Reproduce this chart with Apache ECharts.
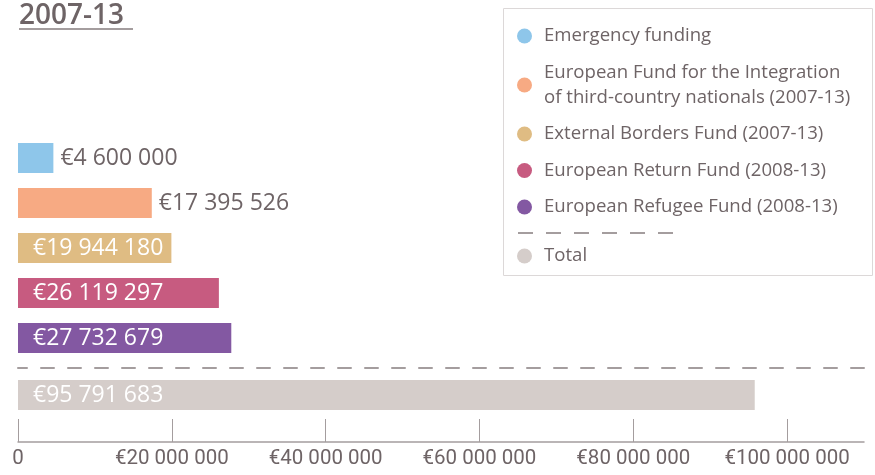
<!DOCTYPE html>
<html>
<head>
<meta charset="utf-8">
<script src="https://cdn.jsdelivr.net/npm/echarts@6/dist/echarts.min.js"></script>
<style>
  html, body { margin: 0; padding: 0; background: #fff; }
  #chart { width: 875px; height: 475px; }
</style>
</head>
<body>
<div id="chart"></div>
<script>
  // data
  const funds = [
    'Emergency funding',
    'European Fund for the Integration\nof third-country nationals (2007-13)',
    'External Borders Fund (2007-13)',
    'European Return Fund (2008-13)',
    'European Refugee Fund (2008-13)'
  ];
  const amounts = [4600000, 17395526, 19944180, 26119297, 27732679];
  const totalName = 'Total';
  const totalAmount = 95791683;
  const axisMax = 110000000;
  const axisStep = 20000000;

  const colors = ['#8ec6ea', '#f7aa83', '#dfbc83', '#c75b80', '#8358a2'];
  const totalColor = '#d5cdca';
  const textColor = '#6e6466';
  const lineColor = '#a49d9e';

  function euro(v) {
    return '€' + String(v).replace(/\B(?=(\d{3})+(?!\d))/g, ' ');
  }

  function barLabel(v) {
    let outside = v < 18000000;
    return {
      show: true,
      position: outside ? 'right' : 'insideLeft',
      distance: outside ? 7 : 15,
      color: outside ? textColor : '#fff',
      fontFamily: 'Open Sans',
      fontSize: 23,
      formatter: p => euro(p.value)
    };
  }

  let series = funds.map((name, i) => ({
    name: name,
    type: 'bar',
    xAxisIndex: 0,
    yAxisIndex: 0,
    stack: 'funds',
    barWidth: 30,
    color: colors[i],
    label: barLabel(amounts[i]),
    data: amounts.map((v, j) => j === i ? v : '-')
  }));
  series.push({
    name: totalName,
    type: 'bar',
    xAxisIndex: 1,
    yAxisIndex: 1,
    barWidth: 30,
    color: totalColor,
    label: barLabel(totalAmount),
    data: [totalAmount]
  });

  const legendText = {
    fontFamily: 'Open Sans',
    fontSize: 18.6,
    lineHeight: 25,
    color: textColor,
    padding: [0, 0, 0, 7]
  };

  let chart = echarts.init(document.getElementById('chart'));
  chart.setOption({
    animation: false,
    title: {
      text: '2007-13',
      left: 19,
      top: 2,
      padding: 0,
      textStyle: { fontFamily: 'Open Sans', fontWeight: 600, fontSize: 28, color: textColor }
    },
    legend: [{
      data: funds,
      orient: 'vertical',
      left: 517,
      top: 23.5,
      padding: 0,
      itemGap: 11.5,
      icon: 'circle',
      itemWidth: 15,
      itemHeight: 15,
      textStyle: legendText
    }, {
      data: [totalName],
      orient: 'vertical',
      left: 517,
      top: 243.5,
      padding: 0,
      icon: 'circle',
      itemWidth: 15,
      itemHeight: 15,
      textStyle: legendText
    }],
    grid: [
      { left: 18, right: 11, top: 135.5, height: 225 },
      { left: 18, right: 11, top: 368, height: 54 },
      { left: 18, right: 11, top: 419, height: 23 }
    ],
    xAxis: [{
      gridIndex: 0, type: 'value', min: 0, max: axisMax, show: false
    }, {
      gridIndex: 1, type: 'value', min: 0, max: axisMax, position: 'top',
      axisLine: { show: true, onZero: false, lineStyle: { color: lineColor, width: 2, type: [13, 14], dashOffset: 4 } },
      axisTick: { show: false }, axisLabel: { show: false }, splitLine: { show: false }
    }, {
      gridIndex: 2, type: 'value', min: 0, max: axisMax, interval: axisStep,
      axisLine: { show: true, onZero: false, lineStyle: { color: lineColor, width: 1.5 } },
      axisTick: { show: false },
      axisLabel: {
        showMaxLabel: false,
        margin: 6,
        fontFamily: 'Roboto',
        fontSize: 20.5,
        color: textColor,
        formatter: v => v === 0 ? '0' : euro(v)
      },
      splitLine: { show: true, showMaxLine: false, lineStyle: { color: lineColor, width: 1 } }
    }],
    yAxis: [
      { gridIndex: 0, type: 'category', data: funds, inverse: true, show: false },
      { gridIndex: 1, type: 'category', data: [totalName], show: false },
      { gridIndex: 2, type: 'value', show: false }
    ],
    graphic: [{
      type: 'rect',
      shape: { x: 503.5, y: 8.5, width: 369, height: 267 },
      style: { fill: 'none', stroke: '#dcd8d8', lineWidth: 1 },
      z: -1
    }, {
      type: 'line',
      shape: { x1: 518, y1: 233, x2: 673, y2: 233 },
      style: { stroke: lineColor, lineWidth: 2, lineDash: [15, 13] }
    }, {
      type: 'line',
      shape: { x1: 19, y1: 29, x2: 133, y2: 29 },
      style: { stroke: lineColor, lineWidth: 2 }
    }],
    series: series
  });
</script>
</body>
</html>
